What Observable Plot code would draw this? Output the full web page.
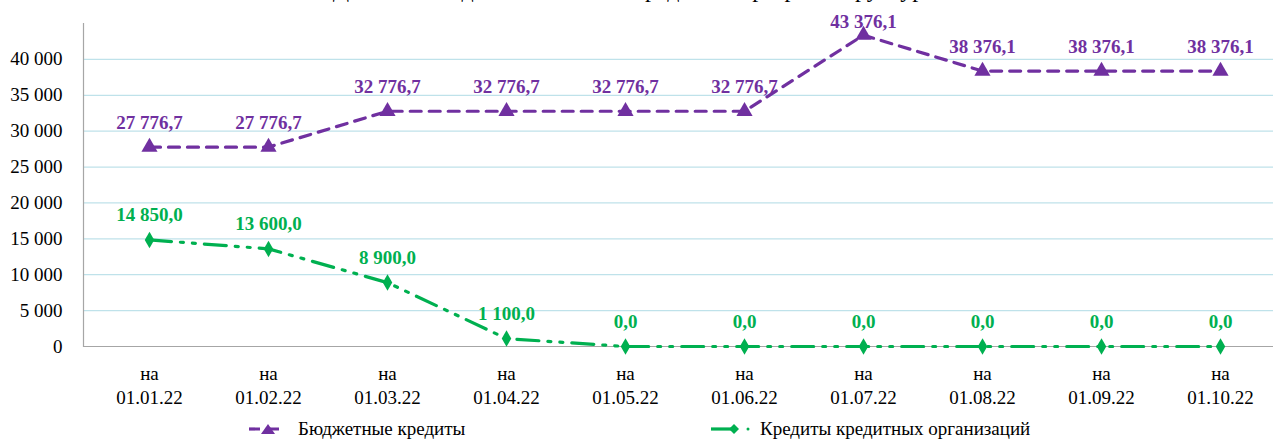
<!DOCTYPE html>
<html><head><meta charset="utf-8">
<script src="https://cdn.jsdelivr.net/npm/d3@7"></script>
<script src="https://cdn.jsdelivr.net/npm/@observablehq/plot@0.6"></script>
<style>
body{margin:0;background:#fff;font-family:"Liberation Serif","Times New Roman","DejaVu Serif",serif;}
#wrap{position:relative;width:1273px;height:441px;overflow:hidden;}
#title{position:absolute;left:0;width:1273px;top:-23px;text-align:center;font-size:24px;line-height:24px;color:#000;white-space:nowrap;}
#legend{position:absolute;left:0;top:417px;width:1273px;height:24px;font-size:19px;color:#000;}
.li{position:absolute;top:0;display:flex;align-items:center;height:24px;}
</style></head><body>
<div id="wrap">
<div id="title">Динамика задолженности по кредитам в разрезе структуры</div>
<div id="chart"></div>
<div id="legend"></div>
</div>
<script>
const dates = ["01.01.22","01.02.22","01.03.22","01.04.22","01.05.22","01.06.22","01.07.22","01.08.22","01.09.22","01.10.22"];
const budgetCredits = [27776.7,27776.7,32776.7,32776.7,32776.7,32776.7,43376.1,38376.1,38376.1,38376.1];
const bankCredits = [14850.0,13600.0,8900.0,1100.0,0,0,0,0,0,0];
const seriesNames = ["Бюджетные кредиты","Кредиты кредитных организаций"];
const yTicks = [0,5000,10000,15000,20000,25000,30000,35000,40000];
const colors = ["#7030a0","#00b050"];

const loc = d3.formatLocale({decimal:",",thousands:"\u00a0",grouping:[3],currency:["",""]});
const fmtTick = loc.format(",.0f");
const fmtVal = loc.format(",.1f");

const data = [];
dates.forEach((d,i)=>{
  data.push({date:d, value:budgetCredits[i], s:seriesNames[0]});
  data.push({date:d, value:bankCredits[i], s:seriesNames[1]});
});
const A = data.filter(d=>d.s===seriesNames[0]);
const B = data.filter(d=>d.s===seriesNames[1]);
const maxA = d3.max(budgetCredits);

const font = '"Liberation Serif","Times New Roman","DejaVu Serif",serif';
const chart = Plot.plot({
  width:1273, height:417,
  marginLeft:83, marginRight:0, marginTop:23, marginBottom:71,
  style:{fontFamily:font, fontSize:"19px", background:"transparent", color:"#000", position:"relative"},
  x:{type:"point", domain:dates, range:[145,1223], padding:0},
  y:{domain:[0,45000]},
  marks:[
    Plot.ruleY(yTicks.filter(v=>v>0), {stroke:"#bfe2ea", strokeWidth:1.2}),
    Plot.axisY({ticks:yTicks, tickFormat:fmtTick, tickSize:0, tickPadding:21, label:null, fontSize:19, fill:"#000", fontFamily:font}),
    Plot.axisX({tickSize:0, tickPadding:17, label:null, tickFormat:d=>"на\n"+d, lineHeight:1.25, fontSize:19, fill:"#000", fontFamily:font}),
    Plot.frame({anchor:"left", stroke:"#a6a6a6", strokeWidth:1.2}),
    Plot.ruleY([0], {stroke:"#a6a6a6", strokeWidth:1.2}),
    Plot.line(A, {x:"date", y:"value", stroke:colors[0], strokeWidth:3.2, strokeDasharray:"11,8"}),
    Plot.line(B, {x:"date", y:"value", stroke:colors[1], strokeWidth:3.2, strokeDasharray:"22,9,3,9,3,9"}),
    Plot.text(A.filter(d=>d.value<maxA), {x:"date", y:"value", text:d=>fmtVal(d.value), dy:-24, fill:colors[0], fontWeight:"bold", fontSize:19, fontFamily:font}),
    Plot.text(A.filter(d=>d.value===maxA), {x:"date", y:"value", text:d=>fmtVal(d.value), dy:-13, fill:colors[0], fontWeight:"bold", fontSize:19, fontFamily:font}),
    Plot.text(B, {x:"date", y:"value", text:d=>fmtVal(d.value), dy:-25, fill:colors[1], fontWeight:"bold", fontSize:19, fontFamily:font}),
    Plot.dot(A, {x:"date", y:"value", symbol:"triangle", r:6, fill:colors[0], stroke:null}),
    Plot.dot(B, {x:"date", y:"value", symbol:"diamond", r:5, fill:colors[1], stroke:null})
  ]
});
document.getElementById("chart").appendChild(chart);

const leg = document.getElementById("legend");
const items = [
  {name:seriesNames[0], color:colors[0], left:248, sym:"tri"},
  {name:seriesNames[1], color:colors[1], left:710, sym:"dia"}
];
items.forEach(it=>{
  const div = document.createElement("div");
  div.className="li"; div.style.left=it.left+"px";
  const ns="http://www.w3.org/2000/svg";
  const s=document.createElementNS(ns,"svg");
  s.setAttribute("width","46"); s.setAttribute("height","24");
  if(it.sym==="tri"){
    s.innerHTML=`<line x1="1" y1="12" x2="36" y2="12" stroke="${it.color}" stroke-width="3.2" stroke-dasharray="11,8"/><path d="M20,7 L27,17 L13,17 Z" fill="${it.color}"/>`;
  } else {
    s.innerHTML=`<line x1="1" y1="12" x2="27" y2="12" stroke="${it.color}" stroke-width="3.2"/><path d="M24,7 L29,12 L24,17 L19,12 Z" fill="${it.color}"/><circle cx="38" cy="12" r="1.5" fill="${it.color}"/>`;
  }
  div.appendChild(s);
  const t=document.createElement("span"); t.textContent=it.name; t.style.marginLeft="4px";
  div.appendChild(t);
  leg.appendChild(div);
});
</script>
</body></html>
